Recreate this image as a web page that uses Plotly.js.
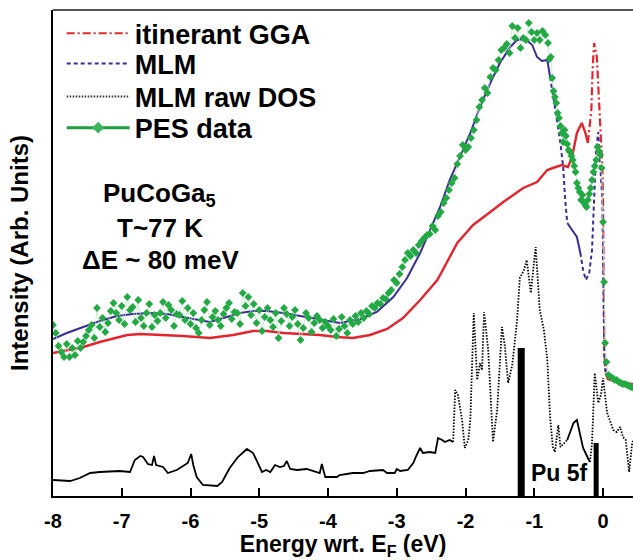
<!DOCTYPE html>
<html>
<head>
<meta charset="utf-8">
<script src="https://cdn.plot.ly/plotly-3.0.1.min.js"></script>
<style>html,body{margin:0;padding:0;background:#fff;}#chart{width:633px;height:560px;}</style>
</head>
<body>
<div id="chart"></div>
<script>
// ---- data (energy in eV, intensity in arbitrary units) ----
const tickVals = [-8, -7, -6, -5, -4, -3, -2, -1, 0];
const tickText = ['-8', '-7', '-6', '-5', '-4', '-3', '-2', '-1', '0'];
const seriesNames = ['itinerant GGA', 'MLM', 'MLM raw DOS', 'PES data'];

const energyGGA = [-8.00,-7.56,-7.32,-6.92,-6.73,-6.34,-6.11,-5.72,-5.38,-5.09,-4.89,-4.65,-4.12,-3.87,-3.64,-3.39,-3.14,-2.91,-2.66,-2.41,-2.12,-1.89,-1.79,-1.64,-1.45,-1.21,-1.16,-0.96,-0.81,-0.73,-0.60,-0.51,-0.45,-0.38,-0.31,-0.26,-0.22,-0.17,-0.15,-0.13,-0.09,-0.06,-0.01,0.00,0.01,0.02,0.04,0.07,0.25,0.44];
const intensityGGA = [143,149,154,161,162,161,160,158,161,165,165,163,161,159,158,161,167,178,196,216,253,271,276,284,294,306,308,314,326,328,331,329,339,363,373,364,353,386,429,453,439,396,329,296,200,140,123,117,113,112];

const energyMLM = [-8.00,-7.80,-7.56,-7.32,-7.07,-6.84,-6.59,-6.34,-6.11,-5.86,-5.72,-5.47,-5.28,-5.09,-4.89,-4.65,-4.41,-4.12,-3.83,-3.53,-3.29,-3.05,-2.85,-2.66,-2.52,-2.37,-2.23,-2.08,-1.93,-1.79,-1.64,-1.50,-1.35,-1.25,-1.13,-1.03,-0.96,-0.89,-0.81,-0.77,-0.73,-0.67,-0.62,-0.58,-0.55,-0.52,-0.45,-0.38,-0.33,-0.29,-0.25,-0.20,-0.16,-0.13,-0.10,-0.07,-0.06,-0.03,-0.01,0.00,0.01,0.02,0.04,0.07,0.17,0.32,0.44];
const intensityMLM = [157,163,169,175,180,182,183,182,179,176,174,179,183,185,185,183,180,176,173,177,184,199,218,243,266,289,316,339,363,389,413,433,449,456,457,451,439,435,436,419,403,376,353,329,296,273,266,259,243,226,216,223,246,296,346,364,353,323,296,240,180,135,123,117,114,112,111];

const energyDOS = [-8.00,-7.75,-7.61,-7.46,-7.32,-7.03,-6.88,-6.81,-6.73,-6.69,-6.62,-6.56,-6.53,-6.50,-6.40,-6.33,-6.20,-6.04,-5.99,-5.96,-5.91,-5.82,-5.61,-5.54,-5.47,-5.43,-5.31,-5.18,-5.09,-5.02,-4.96,-4.90,-4.84,-4.77,-4.70,-4.64,-4.60,-4.55,-4.45,-4.31,-4.19,-4.12,-4.09,-4.04,-3.87,-3.83,-3.64,-3.49,-3.39,-3.20,-3.14,-3.03,-3.00,-2.95,-2.84,-2.76,-2.71,-2.66,-2.62,-2.52,-2.44,-2.40,-2.34,-2.30,-2.23,-2.18,-2.15,-2.11,-2.05,-2.01,-1.96,-1.93,-1.88,-1.83,-1.79,-1.76,-1.73,-1.67,-1.60,-1.54,-1.47,-1.43,-1.38,-1.32,-1.25,-1.21,-1.15,-1.11,-1.05,-1.00,-0.98,-0.92,-0.86,-0.81,-0.77,-0.73,-0.70,-0.65,-0.62,-0.52,-0.43,-0.38,-0.33,-0.29,-0.22,-0.19,-0.16,-0.12,-0.07,-0.03,0.00,0.06,0.10,0.15,0.20,0.25,0.29,0.33,0.38,0.42,0.44];
const intensityDOS = [16,15,18,23,24,25,24,36,40,39,32,31,40,31,29,23,26,33,42,31,19,11,10,14,23,28,39,47,43,33,24,26,24,31,29,30,35,27,26,27,24,23,32,19,19,21,23,23,25,26,23,23,27,25,26,33,41,48,43,44,43,58,56,54,56,54,106,101,76,48,56,76,183,116,133,126,184,146,54,86,169,151,113,131,176,218,226,236,203,236,249,186,166,136,79,49,44,71,49,56,73,76,59,48,38,34,53,123,93,101,118,83,76,66,64,69,59,56,24,51,56];

const energyPES = [-8.00,-7.96,-7.92,-7.88,-7.84,-7.80,-7.76,-7.72,-7.68,-7.64,-7.60,-7.56,-7.52,-7.48,-7.44,-7.40,-7.36,-7.32,-7.28,-7.24,-7.20,-7.16,-7.12,-7.08,-7.04,-7.00,-6.96,-6.92,-6.88,-6.84,-6.80,-6.76,-6.72,-6.68,-6.64,-6.60,-6.56,-6.52,-6.48,-6.44,-6.40,-6.36,-6.32,-6.28,-6.24,-6.20,-6.16,-6.12,-6.08,-6.04,-6.00,-5.96,-5.92,-5.88,-5.84,-5.80,-5.76,-5.72,-5.68,-5.64,-5.60,-5.56,-5.52,-5.48,-5.44,-5.40,-5.36,-5.32,-5.28,-5.24,-5.20,-5.16,-5.12,-5.08,-5.04,-5.00,-4.96,-4.92,-4.88,-4.84,-4.80,-4.76,-4.72,-4.68,-4.64,-4.60,-4.56,-4.52,-4.48,-4.44,-4.40,-4.36,-4.32,-4.28,-4.24,-4.20,-4.16,-4.12,-4.08,-4.04,-4.00,-3.96,-3.92,-3.88,-3.84,-3.80,-3.76,-3.72,-3.68,-3.64,-3.60,-3.56,-3.52,-3.48,-3.44,-3.40,-3.36,-3.32,-3.28,-3.24,-3.20,-3.16,-3.12,-3.08,-3.04,-3.00,-2.96,-2.92,-2.88,-2.84,-2.80,-2.76,-2.72,-2.68,-2.64,-2.60,-2.56,-2.52,-2.48,-2.44,-2.40,-2.36,-2.32,-2.28,-2.24,-2.20,-2.16,-2.12,-2.08,-2.04,-2.00,-1.96,-1.92,-1.88,-1.84,-1.80,-1.76,-1.72,-1.68,-1.64,-1.60,-1.56,-1.52,-1.48,-1.44,-1.40,-1.36,-1.32,-1.28,-1.24,-1.20,-1.16,-1.12,-1.08,-1.04,-1.00,-0.96,-0.92,-0.88,-0.84,-0.80,-0.78,-0.76,-0.74,-0.72,-0.70,-0.68,-0.66,-0.64,-0.62,-0.60,-0.58,-0.56,-0.54,-0.52,-0.50,-0.48,-0.46,-0.44,-0.42,-0.40,-0.38,-0.36,-0.34,-0.32,-0.30,-0.28,-0.26,-0.24,-0.22,-0.20,-0.18,-0.16,-0.14,-0.12,-0.10,-0.08,-0.06,-0.04,-0.02,0.00,0.015,0.03,0.05,0.08,0.11,0.14,0.17,0.20,0.23,0.26,0.29,0.32,0.35,0.38,0.41,0.44];
const intensityPES = [171,163,150,144,139,152,139,148,141,155,148,154,160,166,171,158,188,169,178,164,173,185,193,183,176,190,172,199,186,189,174,196,178,170,183,192,169,181,175,183,194,178,191,186,170,182,181,195,176,188,172,183,168,163,176,186,194,171,179,185,176,170,182,188,193,177,184,183,172,203,190,199,181,192,173,186,165,179,188,176,169,183,158,175,188,182,170,179,186,172,156,168,183,178,164,173,180,176,168,174,170,166,177,160,167,179,170,163,176,172,180,174,183,178,185,182,190,188,193,192,198,197,203,206,216,213,222,229,236,243,240,246,243,251,255,258,261,262,270,266,280,284,293,298,306,313,318,332,340,351,346,349,358,366,376,389,396,408,403,419,428,426,436,446,448,452,443,470,458,468,448,458,456,473,464,456,463,456,465,461,453,437,439,418,405,399,393,383,378,370,363,354,366,360,352,346,344,340,336,330,324,313,308,304,296,301,294,291,289,296,302,308,316,324,330,336,349,345,341,328,274,214,153,134,121,119,118,116,116,114,113,112,112,111,110,109,108];

const pu5fEnergy = [-1.19, -0.10];
const pu5fHeight = [148, 53];

// ---- helpers ----
function piece(xs, ys, lo, hi) {
  const px = [], py = [];
  xs.forEach((x, i) => { if (x >= lo - 1e-9 && x <= hi + 1e-9) { px.push(x); py.push(ys[i]); } });
  return { x: px, y: py };
}
const RED = '#e3262e', BLUE = '#3a2b96', GREEN = '#1c9e3e', BLACK = '#000000';
const DASH_RED = '8px,3px,2px,3px', DASH_BLUE = '4px,3px', DASH_BLACK = '1.5px,1.5px';
function seg(xs, ys, lo, hi, color, width, dash) {
  const p = piece(xs, ys, lo, hi);
  return { type: 'scatter', mode: 'lines', x: p.x, y: p.y, showlegend: false, hoverinfo: 'skip',
           line: { color: color, width: width, dash: dash } };
}

const traces = [];
// legend entries (one legend per row so the rows sit exactly where the reference has them)
traces.push({ type: 'scatter', mode: 'lines', x: [null], y: [null], name: seriesNames[0], legend: 'legend', line: { color: RED, width: 2, dash: DASH_RED } });
traces.push({ type: 'scatter', mode: 'lines', x: [null], y: [null], name: seriesNames[1], legend: 'legend2', line: { color: BLUE, width: 2, dash: DASH_BLUE } });
traces.push({ type: 'scatter', mode: 'lines', x: [null], y: [null], name: seriesNames[2], legend: 'legend3', line: { color: '#333', width: 2, dash: DASH_BLACK } });
traces.push({ type: 'scatter', mode: 'lines+markers', x: [null], y: [null], name: seriesNames[3], legend: 'legend4', line: { color: GREEN, width: 3 }, marker: { symbol: 'diamond', size: 9, color: '#3cb55a' } });

// MLM raw DOS
traces.push(seg(energyDOS, intensityDOS, -8, -2.18, BLACK, 1.8, 'solid'));
traces.push(seg(energyDOS, intensityDOS, -2.18, -0.52, BLACK, 1.8, DASH_BLACK));
traces.push(seg(energyDOS, intensityDOS, -0.52, -0.19, BLACK, 1.8, 'solid'));
traces.push(seg(energyDOS, intensityDOS, -0.19, 0.44, BLACK, 1.8, DASH_BLACK));
// Pu 5f bars
pu5fEnergy.forEach((e, i) => {
  traces.push({ type: 'scatter', mode: 'lines', x: [e, e], y: [0, pu5fHeight[i]], showlegend: false, hoverinfo: 'skip',
                line: { color: BLACK, width: i === 0 ? 7 : 5 } });
});
// itinerant GGA
traces.push(seg(energyGGA, intensityGGA, -8, -0.22, RED, 2.4, 'solid'));
traces.push(seg(energyGGA, intensityGGA, -0.22, 0.04, RED, 2.2, DASH_RED));
traces.push(seg(energyGGA, intensityGGA, 0.04, 0.44, RED, 2.4, 'solid'));
// MLM
traces.push(seg(energyMLM, intensityMLM, -8, -0.77, BLUE, 2, 'solid'));
traces.push(seg(energyMLM, intensityMLM, -0.77, -0.52, BLUE, 2, DASH_BLUE));
traces.push(seg(energyMLM, intensityMLM, -0.52, -0.33, BLUE, 2, 'solid'));
traces.push(seg(energyMLM, intensityMLM, -0.33, 0.04, BLUE, 2, DASH_BLUE));
// PES data
traces.push({ type: 'scatter', mode: 'lines+markers', x: energyPES, y: intensityPES, showlegend: false, hoverinfo: 'skip',
              line: { color: '#bfe6c8', width: 0.8 }, marker: { symbol: 'diamond', size: 6, color: '#22a944' } });

const boldFont = (size) => ({ family: 'Liberation Sans, Arial, sans-serif', size: size, color: '#000', weight: 'bold' });
function legendAt(yPaper) {
  return { x: 0.015, y: yPaper, xanchor: 'left', yanchor: 'middle', bgcolor: 'rgba(0,0,0,0)', itemwidth: 63,
           font: boldFont(27), borderwidth: 0 };
}

const layout = {
  width: 633, height: 560,
  margin: { l: 53, r: 0, t: 10, b: 64 },
  paper_bgcolor: '#fff', plot_bgcolor: '#fff',
  showlegend: true,
  legend: legendAt(0.951),
  legend2: legendAt(0.889),
  legend3: legendAt(0.821),
  legend4: legendAt(0.757),
  xaxis: {
    range: [-8, 0.436], showgrid: false, zeroline: false,
    showline: true, linecolor: '#000', linewidth: 2,
    ticks: 'inside', ticklen: 8, tickwidth: 2, tickcolor: '#000',
    tickvals: tickVals, ticktext: tickText, tickfont: boldFont(20), ticklabelstandoff: 6,
    title: { text: 'Energy wrt. E<sub>F</sub> (eV)', font: boldFont(23), standoff: 8 }
  },
  yaxis: {
    range: [0, 486], showgrid: false, zeroline: false,
    showline: true, linecolor: '#000', linewidth: 2,
    ticks: '', showticklabels: false,
    title: { text: 'Intensity (Arb. Units)', font: boldFont(24), standoff: 16 }
  },
  shapes: [
    { type: 'line', xref: 'paper', yref: 'paper', x0: 0, x1: 1, y0: 1, y1: 1, line: { color: '#555', width: 2 } }
  ],
  annotations: [
    { xref: 'paper', yref: 'paper', x: 0.183, y: 0.62, xanchor: 'center', yanchor: 'middle', text: 'PuCoGa<sub>5</sub>', showarrow: false, font: boldFont(26) },
    { xref: 'paper', yref: 'paper', x: 0.185, y: 0.551, xanchor: 'center', yanchor: 'middle', text: 'T~77 K', showarrow: false, font: boldFont(26) },
    { xref: 'paper', yref: 'paper', x: 0.186, y: 0.485, xanchor: 'center', yanchor: 'middle', text: '\u0394E ~ 80 meV', showarrow: false, font: boldFont(26) },
    { xref: 'x', yref: 'y', x: -0.64, y: 23, xanchor: 'center', yanchor: 'middle', text: 'Pu 5f', showarrow: false, font: boldFont(23) }
  ]
};

Plotly.newPlot('chart', traces, layout, { displayModeBar: false, staticPlot: true });
</script>
</body>
</html>
